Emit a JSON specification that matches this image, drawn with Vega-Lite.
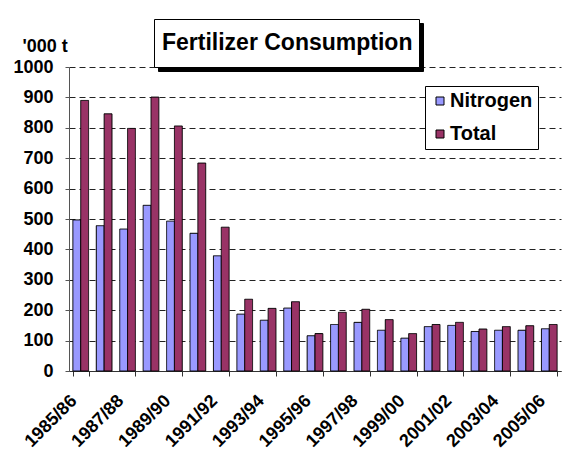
{
  "$schema": "https://vega.github.io/schema/vega-lite/v6.json",
  "width": 492,
  "height": 304,
  "autosize": {"type": "none"},
  "padding": {"left": 69, "top": 67, "right": 7, "bottom": 87},
  "background": "white",
  "config": {
    "font": "Liberation Sans",
    "view": {"stroke": null}
  },
  "data": {
    "values": [
      {"year": "1985/86", "series": "Nitrogen", "value": 497},
      {"year": "1985/86", "series": "Total", "value": 890},
      {"year": "1986/87", "series": "Nitrogen", "value": 478},
      {"year": "1986/87", "series": "Total", "value": 846},
      {"year": "1987/88", "series": "Nitrogen", "value": 467},
      {"year": "1987/88", "series": "Total", "value": 798},
      {"year": "1988/89", "series": "Nitrogen", "value": 545},
      {"year": "1988/89", "series": "Total", "value": 901},
      {"year": "1989/90", "series": "Nitrogen", "value": 493},
      {"year": "1989/90", "series": "Total", "value": 806},
      {"year": "1990/91", "series": "Nitrogen", "value": 453},
      {"year": "1990/91", "series": "Total", "value": 684},
      {"year": "1991/92", "series": "Nitrogen", "value": 379},
      {"year": "1991/92", "series": "Total", "value": 473},
      {"year": "1992/93", "series": "Nitrogen", "value": 187},
      {"year": "1992/93", "series": "Total", "value": 236},
      {"year": "1993/94", "series": "Nitrogen", "value": 167},
      {"year": "1993/94", "series": "Total", "value": 206},
      {"year": "1994/95", "series": "Nitrogen", "value": 207},
      {"year": "1994/95", "series": "Total", "value": 228},
      {"year": "1995/96", "series": "Nitrogen", "value": 116},
      {"year": "1995/96", "series": "Total", "value": 123},
      {"year": "1996/97", "series": "Nitrogen", "value": 153},
      {"year": "1996/97", "series": "Total", "value": 193},
      {"year": "1997/98", "series": "Nitrogen", "value": 160},
      {"year": "1997/98", "series": "Total", "value": 203},
      {"year": "1998/99", "series": "Nitrogen", "value": 134},
      {"year": "1998/99", "series": "Total", "value": 169},
      {"year": "1999/00", "series": "Nitrogen", "value": 108},
      {"year": "1999/00", "series": "Total", "value": 123},
      {"year": "2000/01", "series": "Nitrogen", "value": 146},
      {"year": "2000/01", "series": "Total", "value": 153},
      {"year": "2001/02", "series": "Nitrogen", "value": 150},
      {"year": "2001/02", "series": "Total", "value": 160},
      {"year": "2002/03", "series": "Nitrogen", "value": 130},
      {"year": "2002/03", "series": "Total", "value": 138},
      {"year": "2003/04", "series": "Nitrogen", "value": 134},
      {"year": "2003/04", "series": "Total", "value": 146},
      {"year": "2004/05", "series": "Nitrogen", "value": 134},
      {"year": "2004/05", "series": "Total", "value": 149},
      {"year": "2005/06", "series": "Nitrogen", "value": 139},
      {"year": "2005/06", "series": "Total", "value": 153}
    ]
  },
  "mark": {"type": "bar", "stroke": "black", "strokeWidth": 1},
  "encoding": {
    "x": {
      "field": "year",
      "type": "nominal",
      "sort": null,
      "scale": {"paddingInner": 0.33, "paddingOuter": 0.165},
      "axis": {
        "title": null,
        "values": ["1985/86", "1987/88", "1989/90", "1991/92", "1993/94", "1995/96", "1997/98", "1999/00", "2001/02", "2003/04", "2005/06"],
        "labelAngle": -45,
        "labelAlign": "right",
        "labelBaseline": "middle",
        "labelFontSize": 18,
        "labelFontWeight": "bold",
        "labelColor": "black",
        "labelPadding": 22,
        "labelOffset": -7,
        "labelOverlap": false,
        "tickBand": "extent",
        "tickSize": 5,
        "tickColor": "#333",
        "domainColor": "#333",
        "grid": false
      }
    },
    "xOffset": {"field": "series", "sort": ["Nitrogen", "Total"]},
    "y": {
      "field": "value",
      "type": "quantitative",
      "scale": {"domain": [0, 1000], "nice": false},
      "axis": {
        "title": "'000 t",
        "titleAngle": 0,
        "titleAlign": "left",
        "titleBaseline": "alphabetic",
        "titleX": -47,
        "titleY": -16,
        "titleFontSize": 18,
        "titleFontWeight": "bold",
        "titleColor": "black",
        "values": [0, 100, 200, 300, 400, 500, 600, 700, 800, 900, 1000],
        "format": "d",
        "labelFontSize": 18,
        "labelFontWeight": "bold",
        "labelColor": "black",
        "labelPadding": 12,
        "tickSize": 4,
        "tickColor": "#555",
        "domainColor": "#555",
        "grid": true,
        "gridColor": "#222",
        "gridDash": [6, 4],
        "gridWidth": 1
      }
    },
    "color": {
      "field": "series",
      "type": "nominal",
      "scale": {"domain": ["Nitrogen", "Total"], "range": ["#9999FF", "#993366"]},
      "legend": {
        "title": null,
        "orient": "none",
        "legendX": 356,
        "legendY": 19,
        "strokeColor": "black",
        "fillColor": "white",
        "padding": 5,
        "rowPadding": 13,
        "symbolType": "square",
        "symbolSize": 64,
        "symbolStrokeColor": "black",
        "symbolStrokeWidth": 1,
        "symbolOpacity": 1,
        "labelFontSize": 20,
        "labelFontWeight": "bold",
        "labelColor": "black",
        "labelOffset": 0
      }
    },
    "strokeOpacity": {
      "field": "series",
      "type": "nominal",
      "scale": {"domain": ["Total", "Nitrogen"], "range": [1, 1]},
      "legend": {
        "title": null,
        "orient": "none",
        "legendX": 360,
        "legendY": 23,
        "strokeColor": "black",
        "fillColor": "black",
        "padding": 5,
        "rowPadding": 13,
        "symbolType": "square",
        "symbolSize": 64,
        "symbolFillColor": "black",
        "symbolStrokeColor": "black",
        "symbolStrokeWidth": 1,
        "labelFontSize": 20,
        "labelFontWeight": "bold",
        "labelColor": "black",
        "labelOffset": 0
      }
    },
    "strokeDash": {
      "datum": "Fertilizer Consumption ",
      "legend": {
        "title": null,
        "orient": "none",
        "legendX": 89,
        "legendY": -44,
        "strokeColor": "black",
        "fillColor": "black",
        "padding": 6,
        "clipHeight": 36,
        "symbolSize": 0,
        "symbolOpacity": 0,
        "symbolStrokeWidth": 0,
        "labelOffset": -21,
        "labelLimit": 400,
        "labelFontSize": 23,
        "labelFontWeight": "bold",
        "labelColor": "black"
      }
    },
    "strokeWidth": {
      "datum": "Fertilizer Consumption",
      "type": "nominal",
      "scale": {"range": [1, 1]},
      "legend": {
        "title": null,
        "orient": "none",
        "legendX": 85,
        "legendY": -48,
        "strokeColor": "black",
        "fillColor": "white",
        "padding": 6,
        "clipHeight": 36,
        "symbolSize": 0,
        "symbolOpacity": 0,
        "symbolStrokeWidth": 0,
        "labelOffset": -21,
        "labelLimit": 400,
        "labelFontSize": 23,
        "labelFontWeight": "bold",
        "labelColor": "black"
      }
    }
  }
}
